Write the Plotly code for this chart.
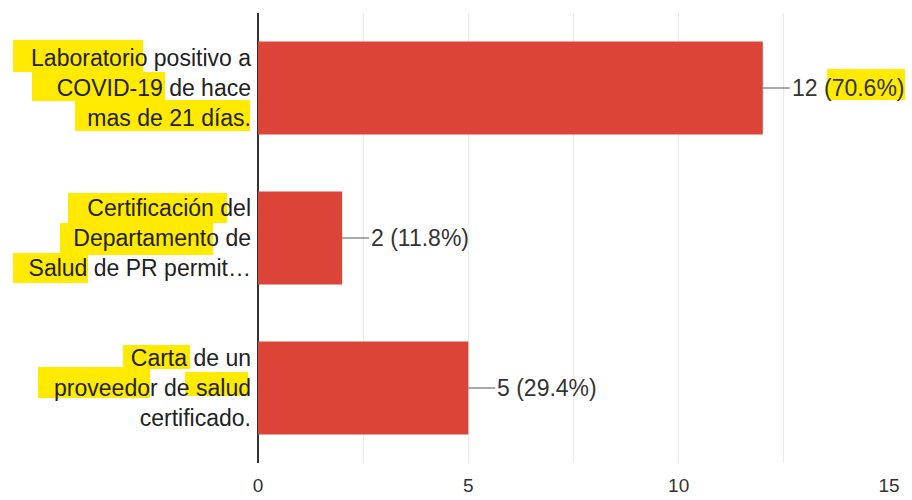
import plotly.graph_objects as go

# Chart data
categories = [
    "Laboratorio positivo a<br>COVID-19 de hace<br>mas de 21 días.",
    "Certificación del<br>Departamento de<br>Salud de PR permit…",
    "Carta de un<br>proveedor de salud<br>certificado.",
]
counts = [12, 2, 5]
percents = [70.6, 11.8, 29.4]
tick_vals = [0, 5, 10, 15]

W, H = 912, 500
M = dict(l=258, r=23, t=13, b=37)
FONT = "Liberation Sans, Arial, sans-serif"

# yellow marker highlights (page pixel boxes: x0, y0, x1, y1)
highlights = [
    (13, 40, 143, 72), (32, 72, 165, 101), (75, 100, 250, 131),
    (68, 193, 227, 223), (60, 223, 213, 255), (13, 253, 88, 283),
    (123, 345, 190, 369), (38, 367, 150, 398), (185, 372, 248, 396),
    (827, 69, 905, 100),
]


def to_paper(x0, y0, x1, y1):
    pw = W - M["l"] - M["r"]
    ph = H - M["t"] - M["b"]
    return dict(x0=(x0 - M["l"]) / pw, x1=(x1 - M["l"]) / pw,
                y0=(H - M["b"] - y1) / ph, y1=(H - M["b"] - y0) / ph)


fig = go.Figure()

fig.add_trace(go.Bar(
    y=categories,
    x=counts,
    orientation="h",
    marker=dict(color="#db4437", line=dict(width=0)),
    width=0.62,
    hoverinfo="skip",
))

# value labels with a short leader line
for cat, n, p in zip(categories, counts, percents):
    fig.add_annotation(
        x=n, y=cat,
        text=f"{n} ({p}%)",
        showarrow=True, arrowhead=0, arrowwidth=1, arrowcolor="#555",
        ax=27, ay=0, xanchor="left",
        font=dict(family=FONT, size=23, color="#333"),
    )

for box in highlights:
    fig.add_shape(type="rect", xref="paper", yref="paper", layer="below",
                  line=dict(width=0), fillcolor="#ffea00", **to_paper(*box))

fig.update_layout(
    width=W, height=H,
    margin=M,
    showlegend=False,
    plot_bgcolor="rgba(0,0,0,0)",
    paper_bgcolor="white",
    font=dict(family=FONT, size=23, color="#222"),
)

fig.update_xaxes(
    range=[0, 15],
    tickvals=tick_vals,
    automargin=False,
    showgrid=True, gridcolor="#ebebeb", gridwidth=1,
    minor=dict(dtick=2.5, showgrid=True, gridcolor="#ebebeb"),
    zeroline=True, zerolinecolor="#333", zerolinewidth=2,
    ticks="", ticklabelstandoff=9,
    tickfont=dict(family=FONT, size=19, color="#333"),
)
fig.update_yaxes(
    autorange="reversed",
    automargin=False,
    showgrid=False,
    ticks="", ticklabelstandoff=6,
    tickfont=dict(family=FONT, size=23, color="#222"),
)

# drop the default page margin so the figure sits at the window corner
fig.write_html("out.html", config={"displayModeBar": False},
               post_script="document.body.style.margin='0';")
